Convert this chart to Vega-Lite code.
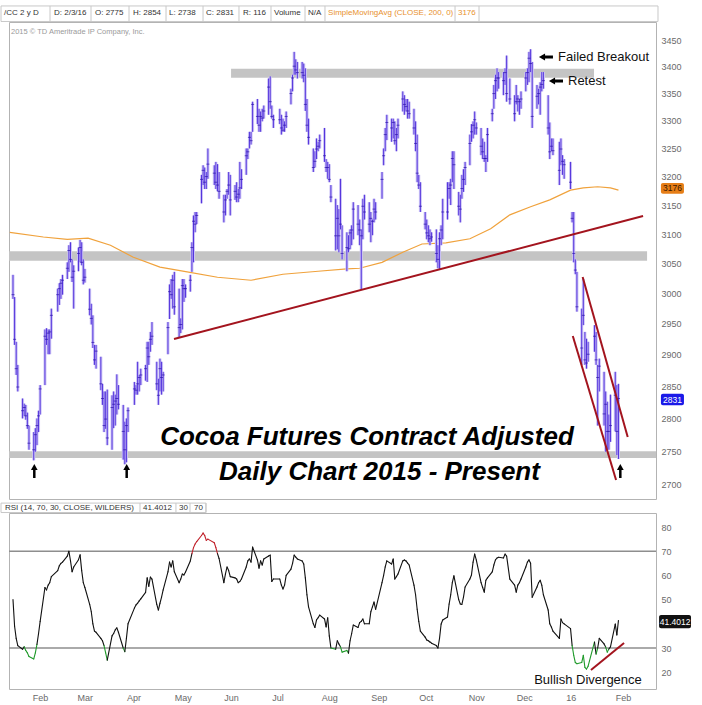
{
"$schema": "https://vega.github.io/schema/vega-lite/v6.json",
"background": "#ffffff",
"padding": {"left": 0, "top": 4, "right": 0, "bottom": 0},
"bounds": "flush",
"spacing": 14,
"config": {
  "view": {"stroke": "#b3b3b3", "strokeWidth": 1},
  "font": "Liberation Sans",
  "axis": {"labelFont": "Liberation Sans", "labelColor": "#6a6a6a", "labelFontSize": 9, "ticks": false, "domain": false, "grid": false}
},
"datasets": {
"bars": [
{"d":"2015-01-20","h":3031,"l":2991,"c":2998,"r":50},
{"d":"2015-01-21","h":2994,"l":2916,"c":2925,"r":39},
{"d":"2015-01-22","h":2921,"l":2868,"c":2878,"r":34},
{"d":"2015-01-23","h":2884,"l":2842,"c":2849,"r":31},
{"d":"2015-01-26","h":2831,"l":2800,"c":2812,"r":29.5},
{"d":"2015-01-27","h":2823,"l":2804,"c":2817,"r":30.5},
{"d":"2015-01-28","h":2821,"l":2798,"c":2804,"r":29},
{"d":"2015-01-29","h":2809,"l":2784,"c":2789,"r":28},
{"d":"2015-01-30","h":2789,"l":2752,"c":2762,"r":26.5},
{"d":"2015-02-02","h":2779,"l":2736,"c":2752,"r":25.5},
{"d":"2015-02-03","h":2785,"l":2749,"c":2775,"r":28},
{"d":"2015-02-04","h":2800,"l":2759,"c":2789,"r":31.5},
{"d":"2015-02-05","h":2812,"l":2779,"c":2804,"r":36},
{"d":"2015-02-06","h":2852,"l":2806,"c":2846,"r":41},
{"d":"2015-02-09","h":2941,"l":2852,"c":2930,"r":55},
{"d":"2015-02-10","h":2943,"l":2916,"c":2925,"r":54},
{"d":"2015-02-11","h":2941,"l":2901,"c":2935,"r":56},
{"d":"2015-02-12","h":2941,"l":2901,"c":2937,"r":57},
{"d":"2015-02-13","h":2975,"l":2926,"c":2964,"r":59.5},
{"d":"2015-02-17","h":3008,"l":2970,"c":2998,"r":62},
{"d":"2015-02-18","h":3017,"l":2981,"c":3008,"r":64},
{"d":"2015-02-19","h":3024,"l":2991,"c":3017,"r":65},
{"d":"2015-02-20","h":3031,"l":2998,"c":3022,"r":65.5},
{"d":"2015-02-23","h":3052,"l":3024,"c":3042,"r":68},
{"d":"2015-02-24","h":3081,"l":3036,"c":3072,"r":70},
{"d":"2015-02-25","h":3086,"l":3052,"c":3057,"r":66},
{"d":"2015-02-26","h":3057,"l":3019,"c":3027,"r":61.5},
{"d":"2015-02-27","h":3047,"l":2975,"c":3037,"r":63.5},
{"d":"2015-03-02","h":3077,"l":3037,"c":3067,"r":66.5},
{"d":"2015-03-03","h":3090,"l":3052,"c":3077,"r":68.5},
{"d":"2015-03-04","h":3086,"l":3047,"c":3052,"r":62},
{"d":"2015-03-05","h":3057,"l":3015,"c":3022,"r":57},
{"d":"2015-03-06","h":3041,"l":3018,"c":3027,"r":55},
{"d":"2015-03-09","h":3008,"l":2964,"c":2974,"r":48},
{"d":"2015-03-10","h":2983,"l":2949,"c":2959,"r":45},
{"d":"2015-03-11","h":2964,"l":2911,"c":2920,"r":40},
{"d":"2015-03-12","h":2916,"l":2884,"c":2892,"r":37},
{"d":"2015-03-13","h":2916,"l":2878,"c":2906,"r":36.5},
{"d":"2015-03-16","h":2897,"l":2844,"c":2854,"r":34},
{"d":"2015-03-17","h":2854,"l":2821,"c":2831,"r":33},
{"d":"2015-03-18","h":2842,"l":2779,"c":2789,"r":31},
{"d":"2015-03-19","h":2842,"l":2784,"c":2799,"r":28},
{"d":"2015-03-20","h":2845,"l":2759,"c":2770,"r":25},
{"d":"2015-03-23","h":2836,"l":2752,"c":2817,"r":35},
{"d":"2015-03-24","h":2842,"l":2785,"c":2822,"r":36},
{"d":"2015-03-25","h":2837,"l":2789,"c":2827,"r":37.5},
{"d":"2015-03-26","h":2869,"l":2806,"c":2831,"r":38.3},
{"d":"2015-03-27","h":2852,"l":2814,"c":2822,"r":36.5},
{"d":"2015-03-30","h":2821,"l":2737,"c":2780,"r":30},
{"d":"2015-03-31","h":2795,"l":2730,"c":2752,"r":28.5},
{"d":"2015-04-01","h":2800,"l":2733,"c":2789,"r":34},
{"d":"2015-04-02","h":2817,"l":2779,"c":2812,"r":40},
{"d":"2015-04-06","h":2857,"l":2821,"c":2846,"r":46.5},
{"d":"2015-04-07","h":2852,"l":2837,"c":2844,"r":47.8},
{"d":"2015-04-08","h":2889,"l":2837,"c":2854,"r":48.5},
{"d":"2015-04-09","h":2868,"l":2842,"c":2864,"r":49.5},
{"d":"2015-04-10","h":2878,"l":2852,"c":2868,"r":50.3},
{"d":"2015-04-13","h":2884,"l":2859,"c":2878,"r":53},
{"d":"2015-04-14","h":2921,"l":2857,"c":2911,"r":59},
{"d":"2015-04-15","h":2921,"l":2884,"c":2897,"r":55.5},
{"d":"2015-04-16","h":2937,"l":2905,"c":2925,"r":59.3},
{"d":"2015-04-17","h":2953,"l":2916,"c":2930,"r":58.5},
{"d":"2015-04-20","h":2889,"l":2844,"c":2854,"r":48},
{"d":"2015-04-21","h":2862,"l":2821,"c":2836,"r":45.7},
{"d":"2015-04-22","h":2894,"l":2842,"c":2878,"r":48.5},
{"d":"2015-04-23","h":2889,"l":2837,"c":2864,"r":51},
{"d":"2015-04-24","h":2873,"l":2842,"c":2868,"r":54},
{"d":"2015-04-27","h":2953,"l":2901,"c":2944,"r":61.5},
{"d":"2015-04-28","h":3015,"l":2958,"c":3003,"r":65.5},
{"d":"2015-04-29","h":3024,"l":2991,"c":2998,"r":63.5},
{"d":"2015-04-30","h":3031,"l":2975,"c":3022,"r":66},
{"d":"2015-05-01","h":3036,"l":2965,"c":2978,"r":61.5},
{"d":"2015-05-04","h":3008,"l":2928,"c":2944,"r":57},
{"d":"2015-05-05","h":2959,"l":2935,"c":2949,"r":58.5},
{"d":"2015-05-06","h":3024,"l":2941,"c":3013,"r":60.6},
{"d":"2015-05-07","h":3024,"l":2986,"c":3008,"r":60.2},
{"d":"2015-05-08","h":3015,"l":2993,"c":3008,"r":61.4},
{"d":"2015-05-11","h":3031,"l":3003,"c":3022,"r":66},
{"d":"2015-05-12","h":3086,"l":3036,"c":3077,"r":69},
{"d":"2015-05-13","h":3132,"l":3052,"c":3122,"r":71.5},
{"d":"2015-05-14","h":3138,"l":3103,"c":3117,"r":73},
{"d":"2015-05-15","h":3138,"l":3117,"c":3132,"r":74},
{"d":"2015-05-18","h":3203,"l":3153,"c":3195,"r":76.5},
{"d":"2015-05-19","h":3220,"l":3185,"c":3211,"r":77.5},
{"d":"2015-05-20","h":3216,"l":3178,"c":3190,"r":76.5},
{"d":"2015-05-21","h":3208,"l":3178,"c":3200,"r":74.5},
{"d":"2015-05-22","h":3250,"l":3196,"c":3222,"r":75},
{"d":"2015-05-26","h":3220,"l":3185,"c":3206,"r":73.5},
{"d":"2015-05-27","h":3226,"l":3178,"c":3190,"r":71.5},
{"d":"2015-05-28","h":3222,"l":3174,"c":3185,"r":69},
{"d":"2015-05-29","h":3208,"l":3161,"c":3174,"r":67},
{"d":"2015-06-01","h":3168,"l":3120,"c":3138,"r":57},
{"d":"2015-06-02","h":3168,"l":3132,"c":3159,"r":60.6},
{"d":"2015-06-03","h":3178,"l":3161,"c":3174,"r":63.5},
{"d":"2015-06-04","h":3208,"l":3168,"c":3185,"r":62},
{"d":"2015-06-05","h":3203,"l":3132,"c":3159,"r":59.5},
{"d":"2015-06-08","h":3185,"l":3159,"c":3174,"r":59},
{"d":"2015-06-09","h":3190,"l":3155,"c":3164,"r":58.5},
{"d":"2015-06-10","h":3178,"l":3155,"c":3169,"r":57},
{"d":"2015-06-11","h":3226,"l":3161,"c":3180,"r":57.5},
{"d":"2015-06-12","h":3213,"l":3178,"c":3195,"r":58.5},
{"d":"2015-06-15","h":3250,"l":3203,"c":3237,"r":63.5},
{"d":"2015-06-16","h":3250,"l":3231,"c":3244,"r":66},
{"d":"2015-06-17","h":3280,"l":3250,"c":3270,"r":66.8},
{"d":"2015-06-18","h":3280,"l":3257,"c":3264,"r":65.5},
{"d":"2015-06-19","h":3335,"l":3280,"c":3330,"r":71.7},
{"d":"2015-06-22","h":3340,"l":3294,"c":3308,"r":66.4},
{"d":"2015-06-23","h":3322,"l":3280,"c":3292,"r":63},
{"d":"2015-06-24","h":3317,"l":3280,"c":3308,"r":66},
{"d":"2015-06-25","h":3322,"l":3299,"c":3305,"r":64.3},
{"d":"2015-06-26","h":3328,"l":3304,"c":3318,"r":66.8},
{"d":"2015-06-29","h":3378,"l":3311,"c":3362,"r":68},
{"d":"2015-06-30","h":3382,"l":3322,"c":3335,"r":68.4},
{"d":"2015-07-01","h":3328,"l":3304,"c":3308,"r":57.5},
{"d":"2015-07-02","h":3311,"l":3287,"c":3302,"r":58.5},
{"d":"2015-07-06","h":3322,"l":3294,"c":3302,"r":58.5},
{"d":"2015-07-07","h":3311,"l":3275,"c":3287,"r":56},
{"d":"2015-07-08","h":3304,"l":3280,"c":3283,"r":54.4},
{"d":"2015-07-09","h":3299,"l":3280,"c":3292,"r":56},
{"d":"2015-07-10","h":3317,"l":3287,"c":3308,"r":60},
{"d":"2015-07-13","h":3359,"l":3330,"c":3350,"r":62.6},
{"d":"2015-07-14","h":3385,"l":3354,"c":3379,"r":65},
{"d":"2015-07-15","h":3428,"l":3385,"c":3401,"r":68.4},
{"d":"2015-07-16","h":3414,"l":3385,"c":3394,"r":67.6},
{"d":"2015-07-17","h":3409,"l":3378,"c":3389,"r":66.8},
{"d":"2015-07-20","h":3409,"l":3378,"c":3389,"r":66},
{"d":"2015-07-21","h":3406,"l":3371,"c":3384,"r":64.7},
{"d":"2015-07-22","h":3397,"l":3318,"c":3330,"r":59},
{"d":"2015-07-23","h":3340,"l":3280,"c":3292,"r":52},
{"d":"2015-07-24","h":3304,"l":3257,"c":3270,"r":47},
{"d":"2015-07-27","h":3250,"l":3208,"c":3216,"r":40},
{"d":"2015-07-28","h":3245,"l":3216,"c":3227,"r":38.5},
{"d":"2015-07-29","h":3268,"l":3231,"c":3249,"r":41.6},
{"d":"2015-07-30","h":3262,"l":3245,"c":3254,"r":42.5},
{"d":"2015-07-31","h":3275,"l":3250,"c":3264,"r":43.6},
{"d":"2015-08-03","h":3287,"l":3226,"c":3237,"r":42},
{"d":"2015-08-04","h":3231,"l":3208,"c":3216,"r":38.7},
{"d":"2015-08-05","h":3226,"l":3196,"c":3216,"r":42.5},
{"d":"2015-08-06","h":3222,"l":3190,"c":3195,"r":35},
{"d":"2015-08-07","h":3185,"l":3155,"c":3164,"r":30},
{"d":"2015-08-10","h":3161,"l":3072,"c":3097,"r":29.5},
{"d":"2015-08-11","h":3150,"l":3074,"c":3127,"r":33},
{"d":"2015-08-12","h":3143,"l":3069,"c":3097,"r":31.7},
{"d":"2015-08-13","h":3196,"l":3108,"c":3117,"r":30.5},
{"d":"2015-08-14","h":3115,"l":3057,"c":3067,"r":28.3},
{"d":"2015-08-17","h":3103,"l":3037,"c":3077,"r":29},
{"d":"2015-08-18","h":3098,"l":3069,"c":3075,"r":27.9},
{"d":"2015-08-19","h":3108,"l":3074,"c":3102,"r":33},
{"d":"2015-08-20","h":3115,"l":3081,"c":3107,"r":36},
{"d":"2015-08-21","h":3155,"l":3091,"c":3143,"r":39.5},
{"d":"2015-08-24","h":3150,"l":3098,"c":3117,"r":38.5},
{"d":"2015-08-25","h":3125,"l":3081,"c":3107,"r":40.5},
{"d":"2015-08-26","h":3108,"l":3006,"c":3097,"r":41},
{"d":"2015-08-27","h":3161,"l":3091,"c":3148,"r":42},
{"d":"2015-08-28","h":3168,"l":3125,"c":3138,"r":40},
{"d":"2015-08-31","h":3155,"l":3103,"c":3117,"r":40},
{"d":"2015-09-01","h":3138,"l":3086,"c":3127,"r":45},
{"d":"2015-09-02","h":3125,"l":3098,"c":3122,"r":47},
{"d":"2015-09-03","h":3161,"l":3120,"c":3143,"r":49},
{"d":"2015-09-04","h":3155,"l":3125,"c":3138,"r":46},
{"d":"2015-09-08","h":3208,"l":3161,"c":3195,"r":57},
{"d":"2015-09-09","h":3250,"l":3220,"c":3237,"r":60},
{"d":"2015-09-10","h":3287,"l":3245,"c":3275,"r":63.5},
{"d":"2015-09-11","h":3311,"l":3265,"c":3297,"r":66},
{"d":"2015-09-14","h":3304,"l":3262,"c":3287,"r":64.7},
{"d":"2015-09-15","h":3304,"l":3268,"c":3297,"r":66.8},
{"d":"2015-09-16","h":3299,"l":3257,"c":3264,"r":58.5},
{"d":"2015-09-17","h":3287,"l":3245,"c":3275,"r":59.5},
{"d":"2015-09-18","h":3304,"l":3268,"c":3292,"r":60.6},
{"d":"2015-09-21","h":3354,"l":3317,"c":3340,"r":66},
{"d":"2015-09-22","h":3347,"l":3311,"c":3330,"r":66.4},
{"d":"2015-09-23","h":3340,"l":3317,"c":3326,"r":66},
{"d":"2015-09-24","h":3340,"l":3304,"c":3318,"r":65.1},
{"d":"2015-09-25","h":3335,"l":3304,"c":3313,"r":64.3},
{"d":"2015-09-28","h":3322,"l":3275,"c":3287,"r":56},
{"d":"2015-09-29","h":3299,"l":3245,"c":3259,"r":52},
{"d":"2015-09-30","h":3275,"l":3190,"c":3206,"r":46},
{"d":"2015-10-01","h":3203,"l":3178,"c":3185,"r":41},
{"d":"2015-10-02","h":3190,"l":3138,"c":3148,"r":37},
{"d":"2015-10-05","h":3138,"l":3108,"c":3117,"r":34.5},
{"d":"2015-10-06","h":3125,"l":3091,"c":3102,"r":33.3},
{"d":"2015-10-07","h":3115,"l":3086,"c":3097,"r":33},
{"d":"2015-10-08","h":3108,"l":3081,"c":3092,"r":32.5},
{"d":"2015-10-09","h":3103,"l":3087,"c":3095,"r":32},
{"d":"2015-10-12","h":3108,"l":3052,"c":3067,"r":31},
{"d":"2015-10-13","h":3081,"l":3042,"c":3057,"r":30},
{"d":"2015-10-14","h":3103,"l":3041,"c":3092,"r":34},
{"d":"2015-10-15","h":3115,"l":3081,"c":3107,"r":39.9},
{"d":"2015-10-16","h":3161,"l":3091,"c":3138,"r":41.6},
{"d":"2015-10-19","h":3190,"l":3125,"c":3138,"r":42.8},
{"d":"2015-10-20","h":3190,"l":3161,"c":3179,"r":48.2},
{"d":"2015-10-21","h":3196,"l":3150,"c":3185,"r":52},
{"d":"2015-10-22","h":3245,"l":3190,"c":3232,"r":57},
{"d":"2015-10-23","h":3245,"l":3178,"c":3221,"r":59.8},
{"d":"2015-10-26","h":3173,"l":3132,"c":3148,"r":50},
{"d":"2015-10-27","h":3168,"l":3120,"c":3143,"r":48.2},
{"d":"2015-10-28","h":3203,"l":3161,"c":3179,"r":48},
{"d":"2015-10-29","h":3213,"l":3173,"c":3195,"r":51},
{"d":"2015-10-30","h":3226,"l":3185,"c":3216,"r":55.2},
{"d":"2015-11-02","h":3275,"l":3220,"c":3259,"r":58.5},
{"d":"2015-11-03","h":3294,"l":3262,"c":3280,"r":60.2},
{"d":"2015-11-04","h":3299,"l":3268,"c":3292,"r":65.5},
{"d":"2015-11-05","h":3317,"l":3275,"c":3302,"r":68.8},
{"d":"2015-11-06","h":3297,"l":3275,"c":3287,"r":66.4},
{"d":"2015-11-09","h":3287,"l":3238,"c":3254,"r":57},
{"d":"2015-11-10","h":3268,"l":3231,"c":3244,"r":55},
{"d":"2015-11-11","h":3262,"l":3226,"c":3232,"r":53.1},
{"d":"2015-11-12","h":3238,"l":3208,"c":3232,"r":58},
{"d":"2015-11-13","h":3287,"l":3226,"c":3275,"r":59},
{"d":"2015-11-16","h":3322,"l":3299,"c":3313,"r":61.5},
{"d":"2015-11-17","h":3366,"l":3322,"c":3350,"r":64.3},
{"d":"2015-11-18","h":3385,"l":3340,"c":3374,"r":66.4},
{"d":"2015-11-19","h":3397,"l":3354,"c":3379,"r":67.2},
{"d":"2015-11-20","h":3390,"l":3359,"c":3379,"r":67.5},
{"d":"2015-11-23","h":3390,"l":3347,"c":3374,"r":67.2},
{"d":"2015-11-24","h":3397,"l":3366,"c":3389,"r":68.8},
{"d":"2015-11-25","h":3421,"l":3335,"c":3350,"r":68},
{"d":"2015-11-27","h":3378,"l":3330,"c":3340,"r":58.5},
{"d":"2015-11-30","h":3347,"l":3299,"c":3313,"r":56},
{"d":"2015-12-01","h":3366,"l":3330,"c":3335,"r":53.1},
{"d":"2015-12-02","h":3347,"l":3317,"c":3340,"r":56},
{"d":"2015-12-03","h":3340,"l":3311,"c":3335,"r":57},
{"d":"2015-12-04","h":3354,"l":3322,"c":3340,"r":58.5},
{"d":"2015-12-07","h":3390,"l":3354,"c":3379,"r":63.5},
{"d":"2015-12-08","h":3397,"l":3366,"c":3389,"r":65.5},
{"d":"2015-12-09","h":3428,"l":3371,"c":3416,"r":66.4},
{"d":"2015-12-10","h":3433,"l":3390,"c":3406,"r":65},
{"d":"2015-12-11","h":3409,"l":3287,"c":3308,"r":51},
{"d":"2015-12-14","h":3366,"l":3322,"c":3345,"r":55.2},
{"d":"2015-12-15","h":3359,"l":3330,"c":3350,"r":57},
{"d":"2015-12-16","h":3371,"l":3311,"c":3362,"r":58},
{"d":"2015-12-17","h":3390,"l":3354,"c":3367,"r":56},
{"d":"2015-12-18","h":3390,"l":3359,"c":3374,"r":52},
{"d":"2015-12-21","h":3347,"l":3275,"c":3287,"r":45.7},
{"d":"2015-12-22","h":3297,"l":3231,"c":3244,"r":40},
{"d":"2015-12-23","h":3268,"l":3245,"c":3254,"r":38.7},
{"d":"2015-12-24","h":3268,"l":3238,"c":3246,"r":37},
{"d":"2015-12-28","h":3262,"l":3185,"c":3211,"r":34},
{"d":"2015-12-29","h":3268,"l":3220,"c":3249,"r":42},
{"d":"2015-12-30","h":3238,"l":3203,"c":3227,"r":40.5},
{"d":"2015-12-31","h":3231,"l":3196,"c":3221,"r":40},
{"d":"2016-01-04","h":3226,"l":3178,"c":3190,"r":38},
{"d":"2016-01-05","h":3138,"l":3120,"c":3127,"r":31},
{"d":"2016-01-06","h":3138,"l":3052,"c":3067,"r":27},
{"d":"2016-01-07","h":3057,"l":3032,"c":3039,"r":24},
{"d":"2016-01-08","h":3036,"l":2970,"c":2978,"r":23.5},
{"d":"2016-01-11","h":2975,"l":2884,"c":2911,"r":24},
{"d":"2016-01-12","h":3024,"l":2948,"c":2964,"r":27},
{"d":"2016-01-13","h":2937,"l":2884,"c":2892,"r":22},
{"d":"2016-01-14","h":2926,"l":2878,"c":2887,"r":21.3},
{"d":"2016-01-15","h":2921,"l":2889,"c":2901,"r":22.5},
{"d":"2016-01-19","h":2948,"l":2905,"c":2930,"r":32.5},
{"d":"2016-01-20","h":2937,"l":2884,"c":2892,"r":27.5},
{"d":"2016-01-21","h":2884,"l":2789,"c":2864,"r":30},
{"d":"2016-01-22","h":2894,"l":2842,"c":2882,"r":34},
{"d":"2016-01-25","h":2873,"l":2789,"c":2807,"r":31.7},
{"d":"2016-01-26","h":2842,"l":2749,"c":2822,"r":30.4},
{"d":"2016-01-27","h":2826,"l":2752,"c":2780,"r":28.3},
{"d":"2016-01-28","h":2806,"l":2752,"c":2780,"r":29.6},
{"d":"2016-01-29","h":2837,"l":2764,"c":2789,"r":30.5},
{"d":"2016-02-01","h":2873,"l":2780,"c":2836,"r":39.9},
{"d":"2016-02-02","h":2852,"l":2744,"c":2780,"r":35.4},
{"d":"2016-02-03","h":2854,"l":2738,"c":2831,"r":41.4}
],
"sma": [
{"d":"2015-01-18","v":3103},{"d":"2015-02-08","v":3095},{"d":"2015-02-23","v":3091},{"d":"2015-03-08","v":3093},
{"d":"2015-03-22","v":3081},{"d":"2015-04-05","v":3061},{"d":"2015-04-22","v":3044},{"d":"2015-05-09","v":3036},
{"d":"2015-05-28","v":3027},{"d":"2015-06-18","v":3022},{"d":"2015-07-08","v":3032},{"d":"2015-07-30","v":3037},
{"d":"2015-08-17","v":3041},{"d":"2015-08-25","v":3042},{"d":"2015-09-08","v":3052},{"d":"2015-09-21","v":3069},
{"d":"2015-10-03","v":3083},{"d":"2015-10-18","v":3085},{"d":"2015-11-02","v":3092},{"d":"2015-11-15","v":3109},
{"d":"2015-11-27","v":3133},{"d":"2015-12-10","v":3147},{"d":"2015-12-22","v":3159},{"d":"2016-01-04","v":3176},
{"d":"2016-01-12","v":3180},{"d":"2016-01-21","v":3182},{"d":"2016-01-29","v":3180},{"d":"2016-02-03","v":3176}
],
"hdr": [
{"t":"/CC 2 y D","a":"2015-01-14T09:00Z","b":"2015-02-12T04:00Z","o":0},
{"t":"D: 2/3/16","a":"2015-02-14T16:00Z","b":"2015-03-09T20:00Z","o":0},
{"t":"O: 2775","a":"2015-03-12T08:00Z","b":"2015-04-02T15:00Z","o":0},
{"t":"H: 2854","a":"2015-04-05T03:00Z","b":"2015-04-25T19:00Z","o":0},
{"t":"L: 2738","a":"2015-04-27T16:00Z","b":"2015-05-18T23:00Z","o":0},
{"t":"C: 2831","a":"2015-05-20T20:00Z","b":"2015-06-10T11:00Z","o":0},
{"t":"R: 116","a":"2015-06-12T23:00Z","b":"2015-06-30T12:00Z","o":0},
{"t":"Volume","a":"2015-07-02T09:00Z","b":"2015-07-21T19:00Z","o":0},
{"t":"N/A","a":"2015-07-23T16:00Z","b":"2015-08-03T07:00Z","o":0},
{"t":"SimpleMovingAvg (CLOSE, 200, 0)","a":"2015-08-05T05:00Z","b":"2015-10-23T17:00Z","o":1},
{"t":"3176","a":"2015-10-25T13:00Z","b":"2015-11-07T17:00Z","o":1}
],
"rhdr": [
{"t":"RSI (14, 70, 30, CLOSE, WILDERS)","a":"2015-01-15T00:00Z","b":"2015-04-09T12:00Z"},
{"t":"41.4012","a":"2015-04-11T10:00Z","b":"2015-05-02T00:00Z"},
{"t":"30","a":"2015-05-03T22:00Z","b":"2015-05-10T19:00Z"},
{"t":"70","a":"2015-05-13T07:00Z","b":"2015-05-20T19:00Z"}
]
},
"vconcat": [
{
"width": 647, "height": 477,
"resolve": {"axis": {"x": "independent", "y": "independent"}},
"layer": [
{"data": {"values": [{}]},
 "mark": {"type": "rect", "fill": "#ffffff", "stroke": "#c8c8c8", "strokeWidth": 1},
 "encoding": {
  "x": {"datum": {"year": 2015, "month": 1, "date": 12, "hours": 12, "utc": true}, "type": "temporal", "axis": null},
  "x2": {"datum": {"year": 2016, "month": 2, "date": 27, "hours": 18, "utc": true}},
  "y": {"datum": 3516, "type": "quantitative", "axis": null},
  "y2": {"datum": 3486}}},
{"data": {"name": "hdr", "format": {"parse": {"a": "date", "b": "date"}}},
 "mark": {"type": "rule", "color": "#c8c8c8"},
 "encoding": {
  "x": {"field": "b", "type": "temporal", "axis": null},
  "y": {"datum": 3516, "type": "quantitative", "axis": null},
  "y2": {"datum": 3486}}},
{"data": {"name": "hdr", "format": {"parse": {"a": "date", "b": "date"}}},
 "mark": {"type": "text", "align": "left", "baseline": "middle", "fontSize": 8},
 "encoding": {
  "x": {"field": "a", "type": "temporal", "axis": null},
  "y": {"datum": 3502.4, "type": "quantitative", "axis": null},
  "text": {"field": "t"},
  "color": {"condition": {"test": "datum.o == 1", "value": "#e8912e"}, "value": "#333333"}}},
{"data": {"values": [{}]},
 "mark": {"type": "text", "align": "left", "baseline": "middle", "fontSize": 7.5, "color": "#9a9a9a", "text": "2015 © TD Ameritrade IP Company, Inc."},
 "encoding": {
  "x": {"datum": {"year": 2015, "month": 1, "date": 18, "hours": 18, "utc": true}, "type": "temporal", "axis": null},
  "y": {"datum": 3465.8, "type": "quantitative", "axis": null}}},
{"data": {"values": [
   {"a": "2015-06-05T12:00Z", "b": "2016-01-18T17:00Z", "lo": 3379.4, "hi": 3396.3},
   {"a": "2015-01-17T12:00Z", "b": "2016-02-20T22:00Z", "lo": 3054.8, "hi": 3070.6},
   {"a": "2015-01-17T12:00Z", "b": "2016-02-26T12:00Z", "lo": 2739.4, "hi": 2749.6}],
   "format": {"parse": {"a": "date", "b": "date"}}},
 "mark": {"type": "rect", "color": "#c4c4c4"},
 "encoding": {
  "x": {"field": "a", "type": "temporal", "axis": null},
  "x2": {"field": "b"},
  "y": {"field": "lo", "type": "quantitative", "axis": null},
  "y2": {"field": "hi"}}},
{"data": {"name": "sma"},
 "mark": {"type": "line", "color": "#f0a23c", "strokeWidth": 1.2},
 "encoding": {
  "x": {"field": "d", "type": "temporal", "axis": null},
  "y": {"field": "v", "type": "quantitative", "axis": null}}},
{"data": {"name": "bars"},
 "mark": {"type": "rule", "color": "#cdc5f6", "strokeWidth": 3},
 "encoding": {
  "x": {"field": "d", "type": "temporal", "axis": null,
        "scale": {"type": "utc", "domain": [{"year": 2015, "month": 1, "date": 17, "hours": 12, "utc": true}, {"year": 2016, "month": 2, "date": 26, "hours": 12, "utc": true}]}},
  "y": {"field": "l", "type": "quantitative",
        "scale": {"type": "log", "domain": [2678.2, 3485], "nice": false},
        "axis": {"orient": "right", "values": [2700,2750,2800,2850,2900,2950,3000,3050,3100,3150,3200,3250,3300,3350,3400,3450], "format": "d", "labelPadding": 5, "title": null}},
  "y2": {"field": "h"}}},
{"data": {"name": "bars"},
 "mark": {"type": "rule", "color": "#5535dd", "strokeWidth": 1},
 "encoding": {
  "x": {"field": "d", "type": "temporal", "axis": null},
  "y": {"field": "l", "type": "quantitative", "axis": null},
  "y2": {"field": "h"}}},
{"data": {"name": "bars"},
 "mark": {"type": "tick", "orient": "horizontal", "color": "#2b12a8", "size": 3, "thickness": 1},
 "encoding": {
  "x": {"field": "d", "type": "temporal", "axis": null},
  "y": {"field": "c", "type": "quantitative", "axis": null}}},
{"data": {"values": [
   {"a": "2015-04-30T19:00Z", "b": "2016-02-18T10:00Z", "p1": 2925.5, "p2": 3131.1},
   {"a": "2016-01-11T14:00Z", "b": "2016-02-08T19:00Z", "p1": 3027.4, "p2": 2771.4},
   {"a": "2016-01-05T10:00Z", "b": "2016-02-01T12:00Z", "p1": 2930.4, "p2": 2706.4}],
   "format": {"parse": {"a": "date", "b": "date"}}},
 "mark": {"type": "rule", "color": "#a3141e", "strokeWidth": 2},
 "encoding": {
  "x": {"field": "a", "type": "temporal", "axis": null},
  "x2": {"field": "b"},
  "y": {"field": "p1", "type": "quantitative", "axis": null},
  "y2": {"field": "p2"}}},
{"data": {"values": [{"d": "2015-02-02T08:00Z"}, {"d": "2015-04-01T04:00Z"}, {"d": "2016-02-04T04:00Z"}], "format": {"parse": {"d": "date"}}},
 "mark": {"type": "rule", "color": "#000000", "strokeWidth": 2.5},
 "encoding": {
  "x": {"field": "d", "type": "temporal", "axis": null},
  "y": {"datum": 2709.4, "type": "quantitative", "axis": null},
  "y2": {"datum": 2721.4}}},
{"data": {"values": [{"d": "2015-02-02T08:00Z"}, {"d": "2015-04-01T04:00Z"}, {"d": "2016-02-04T04:00Z"}], "format": {"parse": {"d": "date"}}},
 "mark": {"type": "point", "shape": "triangle-up", "filled": true, "color": "#000000", "size": 45, "opacity": 1},
 "encoding": {
  "x": {"field": "d", "type": "temporal", "axis": null},
  "y": {"datum": 2725.9, "type": "quantitative", "axis": null}}},
{"data": {"values": [
   {"a": "2015-12-18T10:00Z", "b": "2015-12-24T00:00Z", "p": 3418.3},
   {"a": "2015-12-24T14:00Z", "b": "2015-12-30T07:00Z", "p": 3373.3}],
   "format": {"parse": {"a": "date", "b": "date"}}},
 "mark": {"type": "rule", "color": "#000000", "strokeWidth": 3},
 "encoding": {
  "x": {"field": "a", "type": "temporal", "axis": null},
  "x2": {"field": "b"},
  "y": {"field": "p", "type": "quantitative", "axis": null}}},
{"data": {"values": [
   {"h": "2015-12-17T03:00Z", "p": 3418.3},
   {"h": "2015-12-23T10:00Z", "p": 3373.3}],
   "format": {"parse": {"h": "date"}}},
 "mark": {"type": "point", "shape": "triangle-left", "filled": true, "color": "#000000", "size": 50, "opacity": 1},
 "encoding": {
  "x": {"field": "h", "type": "temporal", "axis": null},
  "y": {"field": "p", "type": "quantitative", "axis": null}}},
{"data": {"values": [
   {"t": "Failed Breakout", "d": "2015-12-27T05:00Z", "p": 3418.3},
   {"t": "Retest", "d": "2016-01-02T10:00Z", "p": 3373.3}],
   "format": {"parse": {"d": "date"}}},
 "mark": {"type": "text", "align": "left", "baseline": "middle", "fontSize": 13, "color": "#111111"},
 "encoding": {
  "x": {"field": "d", "type": "temporal", "axis": null},
  "y": {"field": "p", "type": "quantitative", "axis": null},
  "text": {"field": "t"}}},
{"data": {"values": [
   {"t": "Cocoa Futures Contract Adjusted", "d": "2015-08-29T14:00Z", "p": 2759.2},
   {"t": "Daily Chart 2015 - Present", "d": "2015-09-06T10:00Z", "p": 2706.4}],
   "format": {"parse": {"d": "date"}}},
 "mark": {"type": "text", "align": "center", "baseline": "alphabetic", "fontSize": 26, "fontStyle": "italic", "fontWeight": "bold", "color": "#000000"},
 "encoding": {
  "x": {"field": "d", "type": "temporal", "axis": null},
  "y": {"field": "p", "type": "quantitative", "axis": null},
  "text": {"field": "t"}}},
{"data": {"values": [
   {"k": 1, "a": "2016-02-29T14:00Z", "b": "2016-03-15T00:00Z", "lo": 3169.9, "hi": 3188.6},
   {"k": 0, "a": "2016-02-29T14:00Z", "b": "2016-03-15T00:00Z", "lo": 2820.3, "hi": 2838.5}],
   "format": {"parse": {"a": "date", "b": "date"}}},
 "mark": {"type": "rect", "cornerRadius": 2},
 "encoding": {
  "x": {"field": "a", "type": "temporal", "axis": null},
  "x2": {"field": "b"},
  "y": {"field": "lo", "type": "quantitative", "axis": null},
  "y2": {"field": "hi"},
  "color": {"condition": {"test": "datum.k == 1", "value": "#e67e17"}, "value": "#1a1ae8"}}},
{"data": {"values": [
   {"t": "3176", "k": 1, "d": "2016-03-07T19:00Z", "p": 3179.2},
   {"t": "2831", "k": 0, "d": "2016-03-07T19:00Z", "p": 2829.4}],
   "format": {"parse": {"d": "date"}}},
 "mark": {"type": "text", "align": "center", "baseline": "middle", "fontSize": 8.5},
 "encoding": {
  "x": {"field": "d", "type": "temporal", "axis": null},
  "y": {"field": "p", "type": "quantitative", "axis": null},
  "text": {"field": "t"},
  "color": {"condition": {"test": "datum.k == 1", "value": "#3a1800"}, "value": "#ffffff"}}}
]
},
{
"width": 647, "height": 176,
"resolve": {"axis": {"x": "independent", "y": "independent"}},
"layer": [
{"data": {"values": [{}]},
 "mark": {"type": "rect", "fill": "#ffffff", "stroke": "#c8c8c8", "strokeWidth": 1},
 "encoding": {
  "x": {"datum": {"year": 2015, "month": 1, "date": 12, "hours": 12, "utc": true}, "type": "temporal", "axis": null},
  "x2": {"datum": {"year": 2015, "month": 5, "date": 20, "hours": 19, "utc": true}},
  "y": {"datum": 89.9, "type": "quantitative", "axis": null},
  "y2": {"datum": 86.0}}},
{"data": {"name": "rhdr", "format": {"parse": {"a": "date", "b": "date"}}},
 "mark": {"type": "rule", "color": "#c8c8c8"},
 "encoding": {
  "x": {"field": "b", "type": "temporal", "axis": null},
  "y": {"datum": 89.9, "type": "quantitative", "axis": null},
  "y2": {"datum": 86.0}}},
{"data": {"name": "rhdr", "format": {"parse": {"a": "date", "b": "date"}}},
 "mark": {"type": "text", "align": "left", "baseline": "middle", "fontSize": 8, "color": "#333333"},
 "encoding": {
  "x": {"field": "a", "type": "temporal", "axis": null},
  "y": {"datum": 88.0, "type": "quantitative", "axis": null},
  "text": {"field": "t"}}},
{"data": {"values": [{"v": 70}, {"v": 30}]},
 "mark": {"type": "rule", "color": "#8e8e8e", "strokeWidth": 1.5},
 "encoding": {
  "y": {"field": "v", "type": "quantitative", "axis": null}}},
{"data": {"name": "bars"},
 "transform": [
   {"window": [{"op": "lead", "field": "d", "as": "d2"}, {"op": "lead", "field": "r", "as": "r2"}], "sort": [{"field": "d", "order": "ascending"}]},
   {"filter": "datum.r2 != null"}
 ],
 "mark": {"type": "rule", "strokeWidth": 1.1, "strokeCap": "round"},
 "encoding": {
  "x": {"field": "d", "type": "temporal",
        "scale": {"type": "utc", "domain": [{"year": 2015, "month": 1, "date": 17, "hours": 12, "utc": true}, {"year": 2016, "month": 2, "date": 26, "hours": 12, "utc": true}]},
        "axis": {"orient": "bottom", "values": [
          {"year": 2015, "month": 2, "date": 1, "utc": true}, {"year": 2015, "month": 3, "date": 1, "utc": true},
          {"year": 2015, "month": 4, "date": 1, "utc": true}, {"year": 2015, "month": 5, "date": 1, "utc": true},
          {"year": 2015, "month": 6, "date": 1, "utc": true}, {"year": 2015, "month": 7, "date": 1, "utc": true},
          {"year": 2015, "month": 8, "date": 1, "utc": true}, {"year": 2015, "month": 9, "date": 1, "utc": true},
          {"year": 2015, "month": 10, "date": 1, "utc": true}, {"year": 2015, "month": 11, "date": 1, "utc": true},
          {"year": 2015, "month": 12, "date": 1, "utc": true}, {"year": 2016, "month": 1, "date": 1, "utc": true},
          {"year": 2016, "month": 2, "date": 1, "utc": true}],
          "labelExpr": "utcmonth(datum.value) == 0 ? '16' : utcFormat(datum.value, '%b')",
          "labelAlign": "left", "labelBaseline": "top", "labelPadding": 4, "title": null}},
  "x2": {"field": "d2"},
  "y": {"field": "r", "type": "quantitative",
        "scale": {"domain": [13.06, 85.8], "nice": false, "zero": false},
        "axis": {"orient": "right", "values": [20,30,40,50,60,70,80], "labelPadding": 5, "title": null}},
  "y2": {"field": "r2"},
  "color": {"condition": [
     {"test": "(datum.r + datum.r2) / 2 < 30", "value": "#1f9a2a"},
     {"test": "(datum.r + datum.r2) / 2 > 70", "value": "#c0202a"}], "value": "#111111"}}},
{"data": {"values": [{}]},
 "mark": {"type": "rule", "color": "#a3141e", "strokeWidth": 2},
 "encoding": {
  "x": {"datum": {"year": 2016, "month": 1, "date": 16, "hours": 19, "utc": true}, "type": "temporal", "axis": null},
  "x2": {"datum": {"year": 2016, "month": 2, "date": 6, "hours": 12, "utc": true}},
  "y": {"datum": 20.9, "type": "quantitative", "axis": null},
  "y2": {"datum": 32.1}}},
{"data": {"values": [{}]},
 "mark": {"type": "text", "align": "center", "baseline": "middle", "fontSize": 13, "color": "#111111", "text": "Bullish Divergence"},
 "encoding": {
  "x": {"datum": {"year": 2016, "month": 1, "date": 14, "hours": 22, "utc": true}, "type": "temporal", "axis": null},
  "y": {"datum": 16.7, "type": "quantitative", "axis": null}}},
{"data": {"values": [{}]},
 "mark": {"type": "rect", "color": "#111111", "cornerRadius": 2},
 "encoding": {
  "x": {"datum": {"year": 2016, "month": 2, "date": 28, "hours": 10, "utc": true}, "type": "temporal", "axis": null},
  "x2": {"datum": {"year": 2016, "month": 3, "date": 19, "hours": 10, "utc": true}},
  "y": {"datum": 38.2, "type": "quantitative", "axis": null},
  "y2": {"datum": 43.6}}},
{"data": {"values": [{}]},
 "mark": {"type": "text", "align": "center", "baseline": "middle", "fontSize": 8.5, "color": "#ffffff", "text": "41.4012"},
 "encoding": {
  "x": {"datum": {"year": 2016, "month": 3, "date": 9, "hours": 10, "utc": true}, "type": "temporal", "axis": null},
  "y": {"datum": 40.9, "type": "quantitative", "axis": null}}}
]
}
]
}
